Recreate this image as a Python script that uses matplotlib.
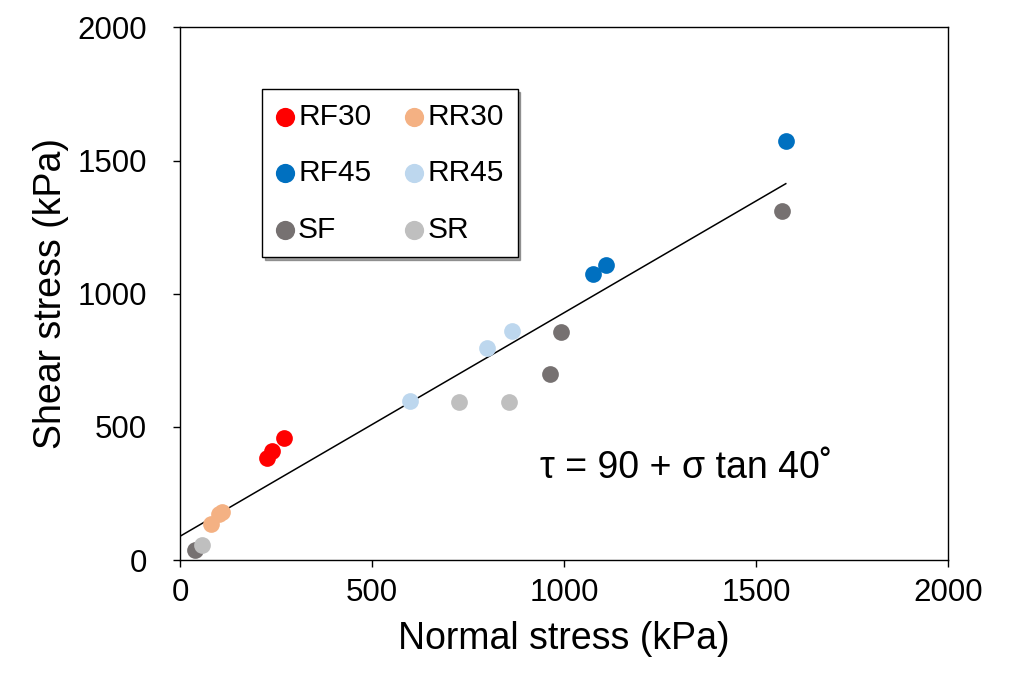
import matplotlib.pyplot as plt
import numpy as np

plt.rcParams['font.family'] = ['Liberation Sans', 'DejaVu Sans']

# (normal stress, shear stress) in kPa
rf30_x = [226, 239, 270]
rf30_y = [385, 409, 460]
rr30_x = [81, 102, 110]
rr30_y = [135, 172, 180]
rf45_x = [1076, 1109, 1577]
rf45_y = [1074, 1108, 1575]
rr45_x = [599, 800, 865]
rr45_y = [598, 798, 860]
sf_x = [39, 962, 992, 1568]
sf_y = [38, 699, 858, 1310]
sr_x = [58, 727, 856]
sr_y = [57, 595, 595]

series = [
    ('RF30', rf30_x, rf30_y, '#FF0000'),
    ('RR30', rr30_x, rr30_y, '#F4B183'),
    ('RF45', rf45_x, rf45_y, '#0070C0'),
    ('RR45', rr45_x, rr45_y, '#BDD7EE'),
    ('SF', sf_x, sf_y, '#767171'),
    ('SR', sr_x, sr_y, '#BFBFBF'),
]

# fitted envelope: tau = 90 + sigma tan 40
cohesion = 90
phi = 40
fit_x = np.array([0, 1577])
fit_y = cohesion + fit_x * np.tan(np.radians(phi))

fig = plt.figure(figsize=(10.12, 6.84), dpi=100)
ax = fig.add_axes([0.178, 0.181, 0.759, 0.779])

ax.plot(fit_x, fit_y, color='black', linewidth=1.1, zorder=2)
for name, xs, ys, c in series:
    ax.scatter(xs, ys, s=145, color=c, label=name, zorder=3, linewidths=0)

ax.set_xlim(0, 2000)
ax.set_ylim(0, 2000)
ax.set_xticks([0, 500, 1000, 1500, 2000])
ax.set_yticks([0, 500, 1000, 1500, 2000])
ax.tick_params(labelsize=22.5, direction='out', length=5, width=1)
ax.tick_params(axis='y', pad=19)
ax.tick_params(axis='x', pad=8)
for sp in ax.spines.values():
    sp.set_linewidth(1.0)
ax.set_xlabel('Normal stress (kPa)', fontsize=27, labelpad=9)
ax.set_ylabel('Shear stress (kPa)', fontsize=27, labelpad=6)

ax.text(937, 345, 'τ = 90 + σ tan 40˚', fontsize=27, va='center', ha='left')

# legend fills column-wise, so reorder to get rows RF30/RR30, RF45/RR45, SF/SR
handles, labels = ax.get_legend_handles_labels()
order = [0, 2, 4, 1, 3, 5]
leg = ax.legend([handles[i] for i in order], [labels[i] for i in order],
                ncol=2, loc='upper left', bbox_to_anchor=(0.1068, 0.8837),
                fontsize=21.5, frameon=True, fancybox=False, shadow=True,
                markerscale=1.15, handlelength=0.6, handletextpad=0.15,
                columnspacing=1.15, labelspacing=0.95, borderpad=0.45,
                borderaxespad=0)
leg.get_frame().set_edgecolor('black')
leg.get_frame().set_linewidth(1.0)

fig.savefig('out.png', dpi=100)
